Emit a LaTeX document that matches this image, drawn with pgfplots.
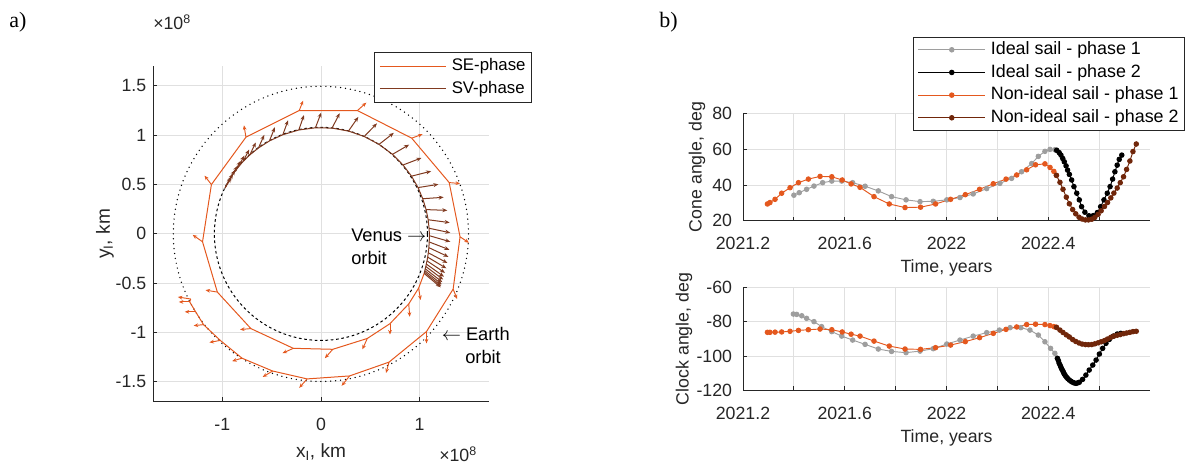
\documentclass[border=0pt]{standalone}
\usepackage{fontspec}
\setmainfont{Liberation Sans}
\newfontfamily\panelfont{Liberation Serif}
\usepackage{pgfplots}
\usepackage{pgfplotstable}
\pgfplotsset{compat=1.18}
\usetikzlibrary{arrows.meta}

\definecolor{seorange}{RGB}{228,88,30}
\definecolor{svbrown}{RGB}{128,58,32}
\definecolor{ntwobrown}{RGB}{112,38,10}
\definecolor{idealgray}{RGB}{158,158,158}
\definecolor{axisgray}{RGB}{38,38,38}
\definecolor{gridgray}{RGB}{224,224,224}

\newcommand\tickfont{\fontsize{13.3}{16}\selectfont}
\newcommand\notefont{\fontsize{13.7}{16.5}\selectfont}
\newcommand\labelfont{\fontsize{14.3}{17}\selectfont}

% ---------- a) trajectory, units of 1e8 km ----------
% SE-phase path (Earth -> Venus spiral)
\pgfplotstableread{
x y
-1.32 -0.66
-1.33 -0.69
-1.27 -0.79
-1.19 -0.92
-1.02 -1.08
-0.80 -1.26
-0.49 -1.39
-0.14 -1.47
0.29 -1.44
0.69 -1.30
1.07 -0.99
1.34 -0.56
1.41 -0.03
1.30 0.52
0.92 0.97
0.37 1.25
-0.22 1.25
-0.76 0.98
-1.11 0.50
-1.20 -0.08
-1.05 -0.59
-0.71 -0.96
-0.28 -1.16
0.12 -1.17
0.47 -1.06
0.70 -0.91
0.89 -0.71
0.99 -0.55
1.046 -0.401
}\sepath

% SE-phase sail normal at the nodes
\pgfplotstableread{
x y u v
-1.32 -0.66 -0.13 0.02
-1.33 -0.69 -0.11 0.00
-1.27 -0.79 -0.11 0.00
-1.19 -0.92 -0.10 -0.01
-1.02 -1.08 -0.11 -0.02
-0.80 -1.26 -0.10 -0.03
-0.49 -1.39 -0.10 -0.06
-0.14 -1.47 -0.08 -0.09
0.29 -1.44 -0.08 -0.10
0.69 -1.30 -0.03 -0.11
1.07 -0.99 0.00 -0.12
1.34 -0.56 0.04 -0.10
1.41 -0.03 0.09 -0.06
1.30 0.52 0.11 -0.01
0.92 0.97 0.11 0.04
0.37 1.25 0.09 0.08
-0.22 1.25 0.04 0.10
-0.76 0.98 -0.02 0.12
-1.11 0.50 -0.07 0.09
-1.20 -0.08 -0.10 0.07
-1.05 -0.59 -0.12 0.02
-0.71 -0.96 -0.11 -0.01
-0.28 -1.16 -0.11 -0.05
0.12 -1.17 -0.08 -0.09
0.47 -1.06 -0.05 -0.11
0.70 -0.91 0.00 -0.11
0.89 -0.71 0.01 -0.13
0.99 -0.55 0.02 -0.12
}\searrows

% SV-phase path with sail normal
\pgfplotstableread{
x y u v
1.046 -0.401 0.169 -0.141
1.049 -0.388 0.170 -0.140
1.053 -0.373 0.171 -0.138
1.057 -0.354 0.173 -0.135
1.063 -0.331 0.176 -0.132
1.068 -0.306 0.179 -0.128
1.075 -0.274 0.183 -0.121
1.082 -0.236 0.189 -0.113
1.088 -0.192 0.194 -0.103
1.094 -0.140 0.199 -0.093
1.097 -0.082 0.205 -0.079
1.100 -0.019 0.211 -0.061
1.096 0.057 0.215 -0.046
1.087 0.143 0.218 -0.029
1.066 0.246 0.215 -0.008
1.032 0.356 0.212 0.015
0.984 0.469 0.207 0.033
0.918 0.585 0.199 0.050
0.832 0.698 0.187 0.072
0.725 0.806 0.169 0.098
0.589 0.907 0.150 0.117
0.439 0.987 0.129 0.133
0.279 1.042 0.100 0.143
0.113 1.072 0.077 0.151
-0.056 1.075 0.059 0.154
-0.224 1.053 0.052 0.151
-0.386 1.005 0.053 0.146
-0.522 0.942 0.056 0.139
-0.633 0.871 0.059 0.132
-0.721 0.800 0.061 0.126
-0.788 0.735 0.061 0.120
-0.837 0.678 0.061 0.115
-0.877 0.625 0.063 0.114
-0.908 0.579 0.061 0.109
-0.933 0.539 0.062 0.108
-0.951 0.506 0.060 0.104
-0.964 0.481 0.060 0.104
-0.972 0.464 0.060 0.104
}\svpath

% ---------- b) sail angles ----------
\pgfplotstableread{
t cone
2021.400 34.3
2021.421 35.7
2021.450 37.6
2021.479 39.4
2021.513 41.3
2021.549 42.2
2021.588 42.2
2021.631 41.3
2021.680 39.3
2021.732 36.7
2021.784 33.5
2021.841 31.7
2021.896 30.7
2021.948 30.9
2022.001 31.7
2022.053 33.0
2022.105 35.0
2022.158 38.0
2022.210 40.9
2022.256 43.7
2022.295 47.4
2022.335 52.0
2022.361 56.0
2022.387 58.8
2022.407 59.9
2022.426 59.7
2022.433 59.4
}\idealconeone

\pgfplotstableread{
t cone
2022.433 59.4
2022.443 58.1
2022.450 56.7
2022.457 54.8
2022.463 53.0
2022.470 50.7
2022.476 48.3
2022.483 45.9
2022.492 42.8
2022.501 39.1
2022.512 35.4
2022.522 31.7
2022.531 27.9
2022.544 24.8
2022.560 22.8
2022.577 22.9
2022.593 24.6
2022.606 27.9
2022.619 31.7
2022.632 35.4
2022.643 39.1
2022.653 43.3
2022.662 47.4
2022.671 51.1
2022.679 54.3
2022.689 56.7
}\idealconetwo

\pgfplotstableread{
t clock
2021.398 -75.5
2021.411 -75.7
2021.431 -76.5
2021.450 -78.0
2021.479 -79.9
2021.509 -82.8
2021.549 -85.7
2021.588 -88.3
2021.631 -90.6
2021.680 -93.1
2021.732 -95.8
2021.784 -97.2
2021.841 -97.9
2021.896 -97.0
2021.948 -95.6
2022.001 -92.9
2022.053 -90.6
2022.105 -88.3
2022.158 -86.3
2022.208 -84.8
2022.250 -83.4
2022.292 -83.4
2022.328 -84.8
2022.361 -87.7
2022.387 -91.6
2022.409 -95.4
2022.426 -98.3
2022.436 -101.2
}\idealclockone

\pgfplotstableread{
t clock
2022.436 -101.2
2022.440 -102.6
2022.443 -104.1
2022.447 -105.3
2022.450 -106.4
2022.453 -107.4
2022.457 -108.4
2022.460 -109.4
2022.463 -110.3
2022.467 -111.2
2022.472 -112.2
2022.477 -113.0
2022.483 -113.8
2022.489 -114.5
2022.496 -115.1
2022.502 -115.5
2022.509 -115.7
2022.515 -115.5
2022.522 -115.1
2022.535 -113.4
2022.548 -110.9
2022.561 -108.0
2022.575 -105.1
2022.588 -102.2
2022.601 -98.7
2022.614 -95.4
2022.627 -92.5
2022.640 -90.2
2022.656 -88.3
2022.671 -87.1
2022.685 -86.7
}\idealclocktwo

\pgfplotstableread{
t cone clock
2021.296 29.4 -86.1
2021.306 30.2 -86.1
2021.326 32.0 -86.0
2021.352 35.4 -85.9
2021.385 38.5 -85.5
2021.418 41.3 -85.0
2021.457 43.3 -84.6
2021.503 44.8 -84.2
2021.549 44.6 -84.6
2021.590 42.8 -85.9
2021.625 40.6 -87.2
2021.660 38.7 -88.3
2021.715 33.5 -91.2
2021.775 29.4 -94.1
2021.837 27.4 -95.8
2021.898 27.6 -96.0
2021.957 29.4 -95.0
2022.016 32.0 -93.5
2022.074 34.6 -91.5
2022.130 37.6 -89.2
2022.184 40.7 -86.7
2022.234 43.3 -84.4
2022.276 45.6 -83.0
2022.315 48.5 -81.6
2022.350 51.3 -81.4
2022.387 51.8 -81.6
2022.407 49.8 -82.2
2022.422 47.6 -82.8
2022.432 45.4 -83.2
}\nonidealone

\pgfplotstableread{
t cone clock
2022.432 45.4 -83.2
2022.446 41.5 -84.8
2022.458 37.6 -86.2
2022.471 33.2 -87.6
2022.483 29.5 -88.8
2022.496 26.3 -90.3
2022.508 23.9 -91.4
2022.521 22.0 -92.3
2022.533 21.0 -92.9
2022.546 20.5 -93.2
2022.558 20.5 -93.3
2022.571 20.9 -93.2
2022.583 21.9 -92.8
2022.596 23.6 -92.2
2022.608 25.6 -91.6
2022.621 28.0 -90.9
2022.633 30.2 -90.0
2022.646 32.8 -89.0
2022.658 35.5 -88.3
2022.671 38.3 -87.8
2022.683 41.3 -87.4
2022.696 44.6 -86.9
2022.708 48.7 -86.5
2022.721 53.4 -86.1
2022.733 58.7 -85.7
2022.746 62.9 -85.5
}\nonidealtwo

\pgfplotsset{
  panel/.style={
    scale only axis, anchor=south west,
    axis x line*=bottom, axis y line*=left,
    axis line style={axisgray, line width=0.65pt},
    tick align=inside, major tick length=3.2pt,
    tick style={axisgray, line width=0.65pt},
    grid=major, major grid style={gridgray, line width=0.6pt},
    tick label style={font=\tickfont, text=axisgray, inner sep=0pt},
    xticklabel style={anchor=north, yshift=-12pt},
    yticklabel style={anchor=east},
  },
  angleplot/.style={line width=0.7pt, mark=*, mark size=1.7pt},
  timeaxis/.style={
    xmin=2021.2, xmax=2022.8,
    xtick={2021.2,2021.4,2021.6,2021.8,2022.0,2022.2,2022.4,2022.6},
    xticklabels={2021.2,{},2021.6,{},2022,{},2022.4,{}},
    yticklabel style={xshift=-8pt},
  },
}

\begin{document}
\begin{tikzpicture}
\useasboundingbox (0,0) rectangle (891.75pt,353.25pt);

% ---------- a) ----------
\begin{axis}[panel,
  at={(114.9pt,52.05pt)}, width=251.6pt, height=251.6pt,
  xmin=-1.7, xmax=1.7, ymin=-1.7, ymax=1.7,
  xtick={-1,0,1}, xticklabels={-1,0,1},
  ytick={-1.5,-1,-0.5,0,0.5,1,1.5},
  yticklabels={-1.5,-1,-0.5,0,0.5,1,1.5},
  yticklabel style={xshift=-5pt},
  legend image code/.code={\draw[#1] (0pt,0pt) -- (49.5pt,0pt);},
  legend cell align=left,
  legend style={at={(1.129,1.041)}, anchor=north east,
    draw=axisgray, line width=0.6pt, fill=white,
    font=\fontsize{12.6}{15}\selectfont, text=black,
    inner xsep=3.5pt, inner ysep=1.5pt, row sep=0pt, column sep=3pt,
    nodes={inner xsep=1pt, inner ysep=0pt, text height=9.5pt, text depth=2.5pt, minimum height=17pt}},
]
\draw[black, line width=1.1pt, line cap=round, dash pattern=on 0pt off 3.7pt]
  (axis cs:0,0) ellipse [x radius=1.496, y radius=1.496];
\draw[black, line width=0.75pt, dash pattern=on 2pt off 2pt]
  (axis cs:0,0) ellipse [x radius=1.08, y radius=1.08];

\addplot[seorange, line width=0.75pt] table[x=x, y=y] {\sepath};
\addlegendentry{SE-phase}
\addplot[svbrown, line width=0.75pt] table[x=x, y=y] {\svpath};
\addlegendentry{SV-phase}

\addplot[forget plot, seorange, line width=0.7pt, -{Stealth[length=3.4pt, width=2.8pt]},
  quiver={u=\thisrow{u}, v=\thisrow{v}}] table[x=x, y=y] {\searrows};
\addplot[forget plot, svbrown, line width=0.75pt, -{Stealth[length=3.8pt, width=3pt]},
  quiver={u=\thisrow{u}, v=\thisrow{v}}] table[x=x, y=y] {\svpath};
\end{axis}

% ---------- b) cone angle ----------
\begin{axis}[panel, timeaxis,
  at={(557.25pt,187.65pt)}, width=305.25pt, height=80.55pt,
  ymin=20, ymax=80, ytick={20,40,60,80}, yticklabels={20,40,60,80},
  legend image code/.code={\draw[#1, mark repeat=2, mark phase=2]
    plot coordinates {(0pt,0pt) (25pt,0pt) (50pt,0pt)};},
  legend cell align=left,
  legend style={at={(1.086,1.714)}, anchor=north east,
    draw=axisgray, line width=0.6pt, fill=white,
    font=\fontsize{13.4}{16}\selectfont, text=black,
    inner xsep=3.5pt, inner ysep=1pt, row sep=0pt, column sep=3pt,
    nodes={inner xsep=1pt, inner ysep=0pt, text height=9.5pt, text depth=2.5pt, minimum height=17pt}},
]
\addplot[angleplot, idealgray] table[x=t, y=cone] {\idealconeone};
\addlegendentry{Ideal sail - phase 1}
\addplot[angleplot, black] table[x=t, y=cone] {\idealconetwo};
\addlegendentry{Ideal sail - phase 2}
\addplot[angleplot, seorange] table[x=t, y=cone] {\nonidealone};
\addlegendentry{Non-ideal sail - phase 1}
\addplot[angleplot, ntwobrown] table[x=t, y=cone] {\nonidealtwo};
\addlegendentry{Non-ideal sail - phase 2}
\end{axis}

% ---------- b) clock angle ----------
\begin{axis}[panel, timeaxis,
  at={(557.25pt,60.2pt)}, width=305.25pt, height=77.55pt,
  ymin=-120, ymax=-60, ytick={-120,-100,-80,-60},
  yticklabels={-120,-100,-80,-60},
]
\addplot[angleplot, idealgray] table[x=t, y=clock] {\idealclockone};
\addplot[angleplot, black] table[x=t, y=clock] {\idealclocktwo};
\addplot[angleplot, seorange] table[x=t, y=clock] {\nonidealone};
\addplot[angleplot, ntwobrown] table[x=t, y=clock] {\nonidealtwo};
\end{axis}

% ---------- labels and notes ----------
\begin{scope}[x=0.75pt, y=-0.75pt, shift={(0pt,353.25pt)},
  every node/.style={inner sep=0pt, text=axisgray}]
\node[anchor=base west, text=black, font=\panelfont\fontsize{16.5}{19}\selectfont] at (9,27.5) {a)};
\node[anchor=base west, text=black, font=\panelfont\fontsize{16.5}{19}\selectfont] at (659,27.5) {b)};
\node[anchor=base west, font=\tickfont] at (153,30) {×10\textsuperscript{8}};
\node[anchor=base west, font=\tickfont] at (439,462) {×10\textsuperscript{8}};
\node[anchor=base, font=\labelfont] at (321,458) {x\textsubscript{I}, km};
\node[rotate=90, font=\labelfont] at (105,234) {y\textsubscript{I}, km};
\node[rotate=90, font=\tickfont] at (697,167) {Cone angle, deg};
\node[rotate=90, font=\tickfont] at (684,339) {Clock angle, deg};
\node[anchor=base, font=\tickfont] at (946.5,273) {Time, years};
\node[anchor=base, font=\tickfont] at (946.5,443) {Time, years};
\node[anchor=base west, text=black, font=\notefont] at (351,241.5) {Venus $\rightarrow$};
\node[anchor=base west, text=black, font=\notefont] at (351,265) {orbit};
\node[anchor=base west, text=black, font=\notefont] at (441.5,341) {$\leftarrow$ Earth};
\node[anchor=base west, text=black, font=\notefont] at (465,364) {orbit};
\end{scope}
\end{tikzpicture}
\end{document}
